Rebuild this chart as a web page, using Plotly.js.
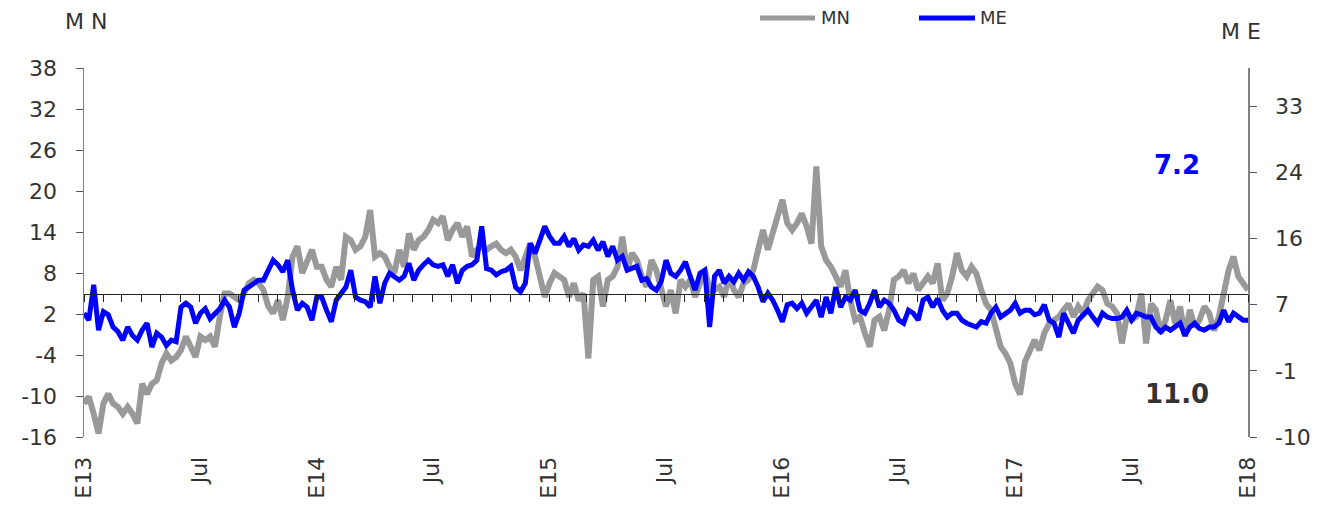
<!DOCTYPE html>
<html>
<head>
<meta charset="utf-8">
<script src="https://cdn.plot.ly/plotly-3.0.1.min.js"></script>
<style>
html,body{margin:0;padding:0;background:#fff;}
#chart{width:1336px;height:512px;}
</style>
</head>
<body>
<div id="chart"></div>
<script>
// Series (roughly weekly samples, Jan 2013 - Jan 2018)
const mnValues = [
-11.1,-10.1,-12.6,-15.5,-11.1,-9.7,-11.1,-11.6,-12.6,-11.6,-12.6,-14.0,-8.2,-9.7,-8.2,-7.7,-5.2,-3.8,-4.8,-4.3,
-3.3,-1.3,-2.8,-4.3,-1.3,-1.8,-1.3,-2.8,1.6,5.0,5.0,4.5,4.0,5.0,6.5,7.0,6.5,5.5,3.1,2.1,
4.0,1.1,4.5,10.4,11.9,8.0,9.9,11.4,8.9,
8.9,7.0,6.0,8.9,7.0,13.3,12.8,11.4,11.9,13.3,17.2,10.4,10.9,10.4,8.9,8.0,11.4,8.9,13.8,11.4,
12.8,13.3,14.3,15.8,15.3,16.3,12.8,14.3,15.3,13.3,14.8,10.4,11.4,11.9,11.4,11.9,12.3,11.4,10.9,11.4,
10.4,8.4,10.4,12.3,10.4,7.5,4.5,6.5,8.0,
7.5,7.0,4.5,6.5,4.0,5.0,-4.5,7.0,7.5,3.1,7.0,7.5,8.9,13.3,8.4,10.9,9.9,7.5,6.0,9.9,
8.4,5.5,3.1,5.5,2.1,7.0,6.0,7.0,4.5,6.5,8.4,5.5,5.5,6.0,4.5,7.5,5.5,4.5,6.5,7.0,
8.4,11.4,14.3,11.4,13.8,16.7,18.7,15.3,
14.3,15.3,16.7,14.8,12.3,23.6,11.9,9.9,8.9,7.5,6.0,8.4,4.0,1.1,1.6,-0.8,-2.8,1.1,1.6,-0.4,
2.6,7.0,7.5,8.4,6.5,7.9,5.5,6.5,7.5,6.5,9.4,4.0,5.0,7.5,10.9,8.4,7.5,8.9,7.9,5.5,
3.5,2.6,-0.4,-2.8,-3.8,-5.2,-8.2,-9.8,-5.0,
-3.3,-1.8,-3.3,-0.8,0.6,1.1,1.6,2.6,3.5,1.6,3.1,2.1,4.0,5.0,6.0,5.5,3.5,3.1,2.1,-2.3,
1.6,1.1,1.6,5.0,-2.3,3.5,2.6,-0.8,1.1,4.0,0.6,3.1,-1.3,2.6,0.1,1.1,3.1,2.1,-0.4,1.6,
5.0,8.4,10.4,7.5,6.5,5.5
];
const meValues = [
6.1,5.2,9.8,3.9,6.3,5.9,4.3,3.7,2.6,4.3,3.2,2.6,3.9,4.8,1.7,3.5,3.0,1.9,2.6,2.4,
6.9,7.4,6.9,4.8,6.1,6.7,5.4,6.1,6.7,7.8,6.9,4.3,6.1,9.1,9.5,10.0,10.4,10.4,11.7,13.0,
12.4,11.5,13.0,9.1,6.5,7.4,6.9,5.2,8.2,
8.2,6.5,5.0,7.8,8.7,9.5,11.7,8.2,7.8,7.6,6.9,10.9,7.4,10.0,11.3,10.9,10.4,10.9,12.6,10.4,
11.7,12.4,13.0,12.4,12.2,12.4,10.9,12.4,10.0,11.7,12.2,12.4,13.0,17.4,11.9,11.7,11.1,11.5,11.7,12.2,
9.5,8.9,10.0,15.2,13.9,15.6,17.4,16.1,15.2,
15.2,16.1,14.8,15.8,14.3,15.0,14.8,15.6,14.3,15.4,13.5,14.8,13.0,13.5,11.7,11.9,12.2,10.4,10.6,9.5,
9.1,10.2,13.0,11.3,10.9,11.7,12.8,10.9,9.1,11.3,11.7,4.3,10.9,11.7,10.0,10.9,10.2,11.3,10.4,11.5,
10.9,9.5,7.6,8.7,7.8,6.5,5.0,7.2,
7.4,6.7,7.4,6.1,6.9,7.8,5.6,8.2,6.1,9.5,6.9,8.2,7.8,9.1,6.5,6.1,7.4,9.1,6.9,7.8,
7.4,6.5,5.2,4.8,6.5,6.1,5.2,7.8,8.2,6.9,8.0,6.5,5.6,6.1,6.1,5.2,4.8,4.6,4.3,5.0,
4.8,6.1,6.9,5.6,6.1,6.5,7.4,6.1,6.5,
6.5,5.9,6.1,7.2,5.2,4.8,3.0,6.1,4.8,3.5,5.2,5.9,6.5,5.6,4.8,6.1,5.6,5.4,5.4,5.6,
6.5,5.2,6.1,5.9,5.6,5.6,4.3,3.7,4.3,3.9,4.3,4.8,3.2,4.3,4.8,4.1,3.9,4.3,4.3,4.8,
6.5,5.0,6.1,5.6,5.2,5.2
];
const startDate = '2013-01-01';
const endDate = '2018-01-01';
const xTickVals = ['2013-01-01','2013-07-01','2014-01-01','2014-07-01','2015-01-01','2015-07-01','2016-01-01','2016-07-01','2017-01-01','2017-07-01','2018-01-01'];
const xTickText = ['E13','Jul','E14','Jul','E15','Jul','E16','Jul','E17','Jul','E18'];
const leftTicks = [-16,-10,-4,2,8,14,20,26,32,38];
const leftTickText = leftTicks.map(v => String(v));
const rightTickVals = [-10,-1.4,7.2,15.8,24.4,33];
const rightTickText = rightTickVals.map(v => String(Math.round(v)));
const seriesNames = ['MN','ME'];
const lastME = '7.2';
const lastMN = '11.0';

// sample dates evenly spread over the period
function sampleDates(n) {
  const s = Date.parse(startDate + 'T00:00:00Z'), e = Date.parse(endDate + 'T00:00:00Z');
  const step = (e - s) / (n - 1);
  const out = [];
  for (let i = 0; i < n; i++) {
    out.push(new Date(s + i * step).toISOString().slice(0, 19).replace('T', ' '));
  }
  return out;
}
const datesMN = sampleDates(mnValues.length);
const datesME = sampleDates(meValues.length);

const FONT = 'DejaVu Sans, Verdana, sans-serif';
const TXT = '#333333';
const GREY = '#999999';
const BLUE = '#0000ff';

const traces = [
  {x: datesMN, y: mnValues, name: seriesNames[0], type: 'scatter', mode: 'lines',
   line: {color: GREY, width: 6}, xaxis: 'x', yaxis: 'y', showlegend: false, hoverinfo: 'skip'},
  {x: datesME, y: meValues, name: seriesNames[1], type: 'scatter', mode: 'lines',
   line: {color: BLUE, width: 5}, xaxis: 'x2', yaxis: 'y2', showlegend: false, hoverinfo: 'skip'}
];

const crossPos = (5 - leftTicks[0]) / (leftTicks[leftTicks.length - 1] - leftTicks[0]);

const layout = {
  width: 1336, height: 512,
  margin: {l: 84, r: 88, t: 68, b: 75, pad: 0},
  paper_bgcolor: '#ffffff', plot_bgcolor: '#ffffff',
  font: {family: FONT, size: 22, color: TXT},
  showlegend: false,
  xaxis: {
    type: 'date', range: [startDate, endDate], anchor: 'free', position: crossPos,
    showline: true, linecolor: '#222222', linewidth: 1,
    ticks: 'outside', ticklen: 7, tickwidth: 1, tickcolor: '#222222',
    dtick: 'M1', tick0: startDate, showticklabels: false, showgrid: false, zeroline: false
  },
  xaxis2: {
    type: 'date', range: [startDate, endDate], overlaying: 'x', anchor: 'y2', side: 'bottom',
    tickmode: 'array', tickvals: xTickVals, ticktext: xTickText, tickangle: -90,
    ticks: 'outside', ticklen: 10, tickcolor: 'rgba(0,0,0,0)',
    showline: false, showgrid: false, zeroline: false,
    tickfont: {family: FONT, size: 22, color: TXT}
  },
  yaxis: {
    range: [leftTicks[0], leftTicks[leftTicks.length - 1]], tickmode: 'array', tickvals: leftTicks, ticktext: leftTickText,
    showline: true, linecolor: '#808080', linewidth: 1.5,
    ticks: 'outside', ticklen: 7, tickcolor: '#555555', ticklabelstandoff: 14,
    showgrid: false, zeroline: false,
    tickfont: {family: FONT, size: 22, color: TXT}
  },
  yaxis2: {
    range: [-10, 38], overlaying: 'y', side: 'right', anchor: 'x2',
    tickmode: 'array', tickvals: rightTickVals, ticktext: rightTickText,
    showline: true, linecolor: '#808080', linewidth: 1.5,
    ticks: 'outside', ticklen: 7, tickcolor: '#555555', ticklabelstandoff: 14,
    showgrid: false, zeroline: false,
    tickfont: {family: FONT, size: 22, color: TXT}
  },
  shapes: [
    {type: 'line', xref: 'paper', yref: 'paper', x0: (760-84)/1164, x1: (815-84)/1164, y0: (437-18)/369, y1: (437-18)/369,
     line: {color: GREY, width: 5}},
    {type: 'line', xref: 'paper', yref: 'paper', x0: (919-84)/1164, x1: (975-84)/1164, y0: (437-18)/369, y1: (437-18)/369,
     line: {color: BLUE, width: 5}}
  ],
  annotations: [
    {xref: 'paper', yref: 'paper', x: (819-84)/1164, y: (437-18)/369, xanchor: 'left', yanchor: 'middle',
     text: seriesNames[0], showarrow: false, font: {family: FONT, size: 18, color: TXT}},
    {xref: 'paper', yref: 'paper', x: (978-84)/1164, y: (437-18)/369, xanchor: 'left', yanchor: 'middle',
     text: seriesNames[1], showarrow: false, font: {family: FONT, size: 18, color: TXT}},
    {xref: 'paper', yref: 'paper', x: (63-84)/1164, y: (437-22)/369, xanchor: 'left', yanchor: 'middle',
     text: 'M N', showarrow: false, font: {family: FONT, size: 22, color: TXT}},
    {xref: 'paper', yref: 'paper', x: (1219-84)/1164, y: (437-31)/369, xanchor: 'left', yanchor: 'middle',
     text: 'M E', showarrow: false, font: {family: FONT, size: 22, color: TXT}},
    {xref: 'paper', yref: 'paper', x: (1177-84)/1164, y: (437-165)/369, xanchor: 'center', yanchor: 'middle',
     text: '<b>' + lastME + '</b>', showarrow: false, font: {family: FONT, size: 26, color: BLUE}},
    {xref: 'paper', yref: 'paper', x: (1177-84)/1164, y: (437-394)/369, xanchor: 'center', yanchor: 'middle',
     text: '<b>' + lastMN + '</b>', showarrow: false, font: {family: FONT, size: 26, color: TXT}}
  ]
};

Plotly.newPlot('chart', traces, layout, {staticPlot: true, displayModeBar: false});
</script>
</body>
</html>
